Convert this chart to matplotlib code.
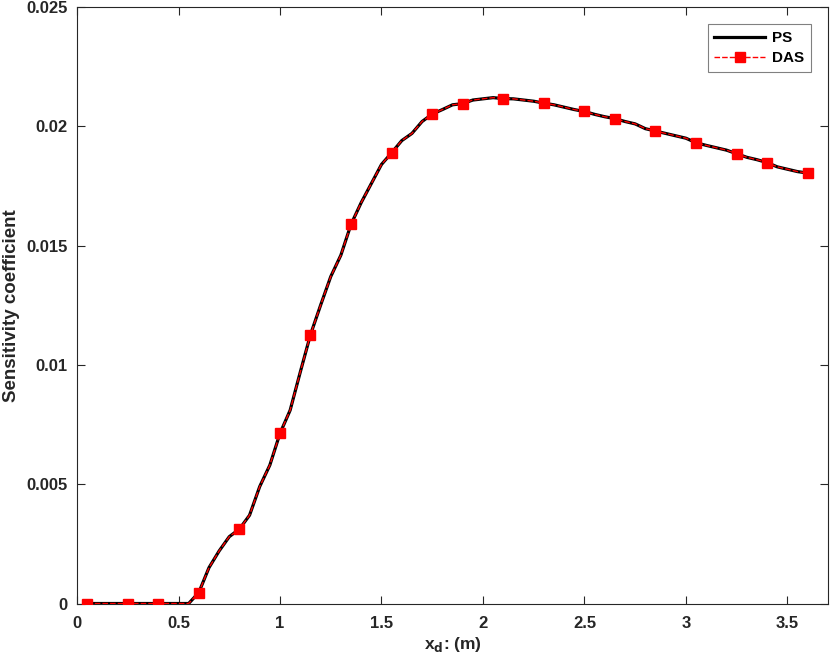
import matplotlib
matplotlib.use("Agg")
import matplotlib.pyplot as plt

x_values = [0.05, 0.10, 0.15, 0.20, 0.25, 0.30, 0.35, 0.40, 0.45, 0.50,
            0.55, 0.60, 0.65, 0.70, 0.75, 0.80, 0.85, 0.90, 0.95, 1.00,
            1.05, 1.10, 1.15, 1.20, 1.25, 1.30, 1.35, 1.40, 1.45, 1.50,
            1.55, 1.60, 1.65, 1.70, 1.75, 1.80, 1.85, 1.90, 1.95, 2.00,
            2.05, 2.10, 2.15, 2.20, 2.25, 2.30, 2.35, 2.40, 2.45, 2.50,
            2.55, 2.60, 2.65, 2.70, 2.75, 2.80, 2.85, 2.90, 2.95, 3.00,
            3.05, 3.10, 3.15, 3.20, 3.25, 3.30, 3.35, 3.40, 3.45, 3.50,
            3.55, 3.60]

ps_values = [0.0, 0.0, 0.0, 0.0, 0.0, 0.0, 0.0, 0.0, 0.0, 0.0,
             0.0, 0.00046, 0.0015, 0.0022, 0.0028, 0.00312, 0.0037, 0.0049, 0.0058, 0.00713,
             0.0081, 0.0097, 0.01126, 0.0125, 0.0137, 0.0146, 0.01589, 0.0168, 0.0176, 0.0184,
             0.01889, 0.0194, 0.0197, 0.0202, 0.02051, 0.0207, 0.0209, 0.02095, 0.0211, 0.02115,
             0.0212, 0.02116, 0.02115, 0.0211, 0.02105, 0.02097, 0.0209, 0.0208, 0.0207, 0.02062,
             0.0205, 0.0204, 0.02032, 0.0202, 0.0201, 0.0199, 0.0198, 0.0197, 0.0196, 0.0195,
             0.01931, 0.0192, 0.0191, 0.0190, 0.01885, 0.0187, 0.0186, 0.01848, 0.0183, 0.0182,
             0.0181, 0.01804]

das_values = list(ps_values)
das_marker_idx = [0, 4, 7, 11, 15, 19, 22, 26, 30, 34, 37, 41, 45, 49, 52, 56, 60, 64, 67, 71]

x_ticks = [0, 0.5, 1, 1.5, 2, 2.5, 3, 3.5]
x_ticklabels = ["0", "0.5", "1", "1.5", "2", "2.5", "3", "3.5"]
y_ticks = [0, 0.005, 0.01, 0.015, 0.02, 0.025]
y_ticklabels = ["0", "0.005", "0.01", "0.015", "0.02", "0.025"]

plt.rcParams['font.family'] = ['Liberation Sans', 'DejaVu Sans']
plt.rcParams['font.weight'] = 'bold'

fig = plt.figure(figsize=(8.3, 6.64), dpi=100)
ax = fig.add_axes([0.0928, 0.0911, 0.9048, 0.8984])

axcol = '#262626'
ax.plot(x_values, ps_values, color='black', lw=2.3, label='PS', zorder=2)
ax.plot(x_values, das_values, color='red', lw=1.0, dashes=(4, 1.5),
        marker='s', markersize=7.5, markevery=das_marker_idx,
        markerfacecolor='red', markeredgecolor='red', label='DAS', zorder=3)

ax.set_xlim(0, 3.7)
ax.set_ylim(0, 0.025)
ax.set_xticks(x_ticks)
ax.set_xticklabels(x_ticklabels)
ax.set_yticks(y_ticks)
ax.set_yticklabels(y_ticklabels)
ax.tick_params(direction='in', length=5.5, width=0.8, top=True, right=True,
               labelsize=12, colors=axcol)
ax.tick_params(axis='x', pad=9)
ax.tick_params(axis='y', pad=7)
for lab in ax.get_xticklabels() + ax.get_yticklabels():
    lab.set_fontweight('bold')
for s in ax.spines.values():
    s.set_color(axcol)
    s.set_linewidth(0.8)

ax.set_xlabel(r'x$_\mathbf{d}$: (m)', fontsize=12.5, fontweight='bold', color=axcol, labelpad=3)
ax.set_ylabel('Sensitivity coefficient', fontsize=13.5, fontweight='bold', color=axcol, labelpad=4)

leg = ax.legend(loc='upper right', bbox_to_anchor=(0.977, 0.9715), borderaxespad=0,
                fontsize=11, frameon=True, fancybox=False, edgecolor='#808080', framealpha=1,
                handlelength=3.3, borderpad=0.45, labelspacing=0.4, handletextpad=0.45)
leg.get_frame().set_linewidth(0.8)
for t in leg.get_texts():
    t.set_fontweight('bold')

fig.savefig('out.png', dpi=100)
